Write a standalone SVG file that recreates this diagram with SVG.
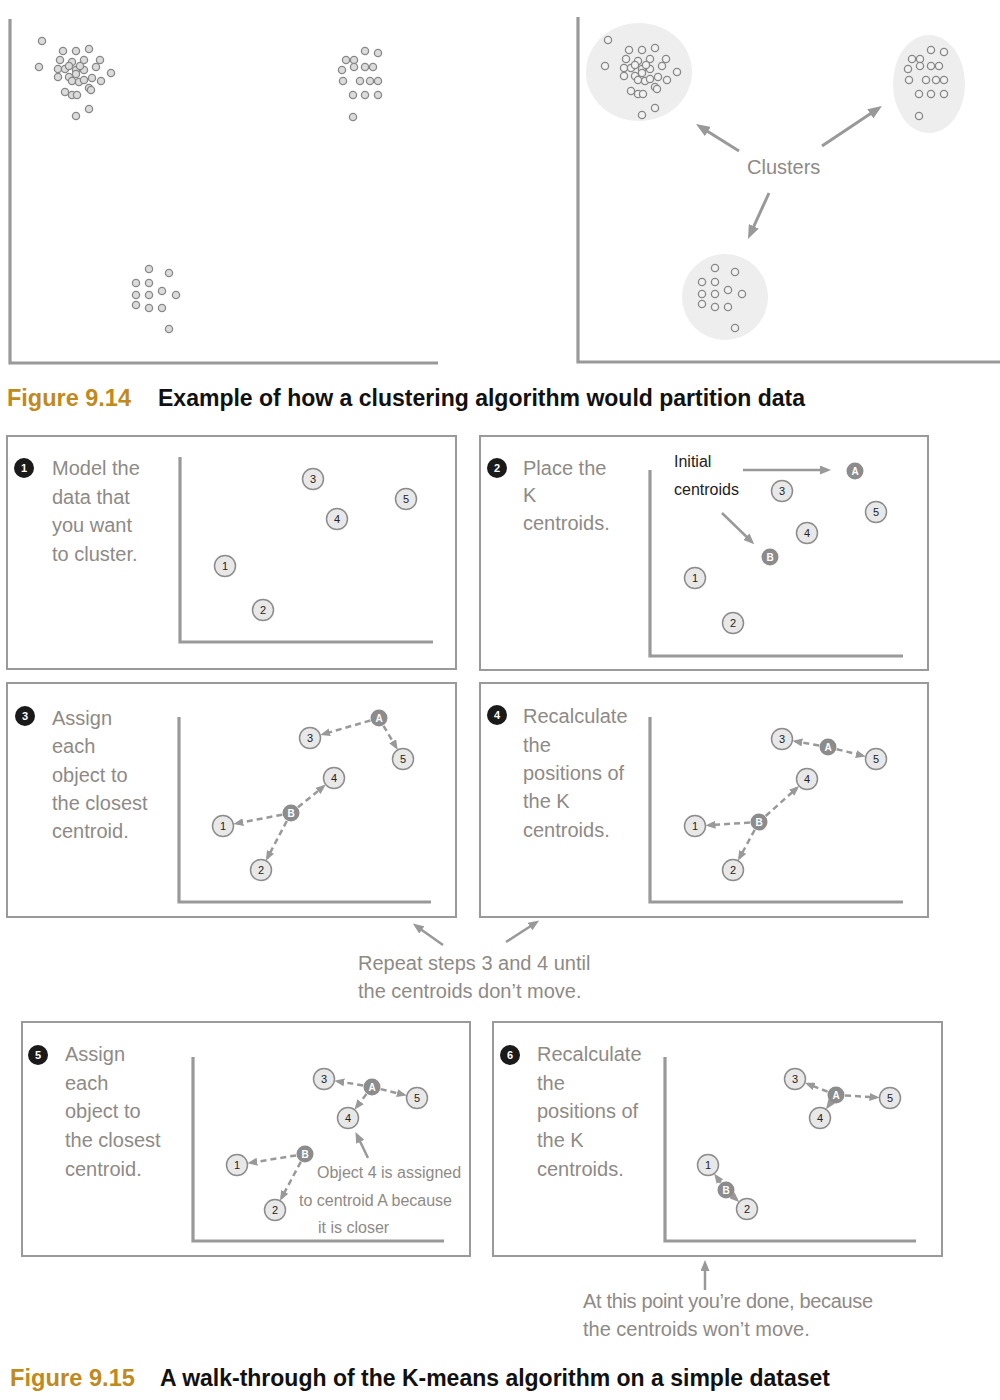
<svg xmlns="http://www.w3.org/2000/svg" xmlns:xlink="http://www.w3.org/1999/xlink" width="1000" height="1400" viewBox="0 0 1000 1400">
<defs>
<style>
.ax{stroke:#999;stroke-width:3.2;fill:none}
.panel{fill:none;stroke:#9a9a9a;stroke-width:2}
.pt{fill:#e8e8e8;stroke:#8c8c8c;stroke-width:1.5}
.ct{fill:#8c8c8c}
.pl{font-family:'Liberation Sans',sans-serif;font-size:11px;fill:#222;text-anchor:middle}
.cl{font-family:'Liberation Sans',sans-serif;font-weight:bold;font-size:10px;fill:#fff;text-anchor:middle}
.hw{font-family:'Liberation Sans',sans-serif;font-size:20px;fill:#8e8a86}
.hs{font-family:'Liberation Sans',sans-serif;font-size:16px;fill:#8e8a86}
.hb{font-family:'Liberation Sans',sans-serif;font-size:16px;fill:#222}
.badge{fill:#1a1a1a}
.bn{font-family:'Liberation Sans',sans-serif;font-weight:bold;font-size:11px;fill:#fff;text-anchor:middle}
.dash{stroke:#999;stroke-width:2.5;stroke-dasharray:6 4;fill:none;marker-end:url(#ms)}
.big{stroke:#999;stroke-width:3;fill:none;marker-end:url(#mb)}
.med{stroke:#999;stroke-width:2.5;fill:none;marker-end:url(#mm)}
.dots circle{stroke:#888;stroke-width:1.3}
.blob{fill:#eeeeee}
.cap{font-family:'Liberation Sans',sans-serif;font-weight:bold;font-size:23px}
</style>
<marker id="mb" markerUnits="userSpaceOnUse" markerWidth="14" markerHeight="11" refX="9" refY="5.5" orient="auto"><path d="M0,0 L14,5.5 L0,11 z" fill="#999"/></marker>
<marker id="mm" markerUnits="userSpaceOnUse" markerWidth="11" markerHeight="9" refX="7" refY="4.5" orient="auto"><path d="M0,0 L11,4.5 L0,9 z" fill="#999"/></marker>
<marker id="ms" markerUnits="userSpaceOnUse" markerWidth="10" markerHeight="8" refX="7" refY="4" orient="auto"><path d="M0,0 L10,4 L0,8 z" fill="#999"/></marker>
<g id="pts" class="dots">
<circle cx="42" cy="41" r="3.6"/><circle cx="63" cy="51" r="3.6"/><circle cx="76" cy="51" r="3.6"/><circle cx="89" cy="49" r="3.6"/>
<circle cx="60" cy="60" r="3.6"/><circle cx="72" cy="62" r="3.6"/><circle cx="84" cy="60" r="3.6"/><circle cx="100" cy="60" r="3.6"/>
<circle cx="39" cy="67" r="3.6"/><circle cx="58" cy="69" r="3.6"/><circle cx="65" cy="69" r="3.6"/><circle cx="76" cy="70" r="3.6"/>
<circle cx="84" cy="70" r="3.6"/><circle cx="96" cy="67" r="3.6"/><circle cx="111" cy="73" r="3.6"/><circle cx="58" cy="77" r="3.6"/>
<circle cx="69" cy="77" r="3.6"/><circle cx="76" cy="74" r="3.6"/><circle cx="72" cy="81" r="3.6"/><circle cx="79" cy="82" r="3.6"/>
<circle cx="84" cy="80" r="3.6"/><circle cx="92" cy="78" r="3.6"/><circle cx="101" cy="81" r="3.6"/><circle cx="65" cy="92" r="3.6"/>
<circle cx="72" cy="95" r="3.6"/><circle cx="77" cy="95" r="3.6"/><circle cx="89" cy="88" r="3.6"/><circle cx="91" cy="90" r="3.6"/>
<circle cx="89" cy="109" r="3.6"/><circle cx="76" cy="116" r="3.6"/><circle cx="69" cy="66" r="3.6"/><circle cx="80" cy="66" r="3.6"/>
<circle cx="365" cy="51" r="3.6"/><circle cx="378" cy="53" r="3.6"/><circle cx="346" cy="60" r="3.6"/><circle cx="354" cy="60" r="3.6"/>
<circle cx="342" cy="70" r="3.6"/><circle cx="354" cy="67" r="3.6"/><circle cx="365" cy="67" r="3.6"/><circle cx="373" cy="67" r="3.6"/>
<circle cx="343" cy="81" r="3.6"/><circle cx="360" cy="81" r="3.6"/><circle cx="370" cy="81" r="3.6"/><circle cx="378" cy="81" r="3.6"/>
<circle cx="353" cy="95" r="3.6"/><circle cx="365" cy="95" r="3.6"/><circle cx="378" cy="95" r="3.6"/><circle cx="353" cy="117" r="3.6"/>
<circle cx="149" cy="269" r="3.6"/><circle cx="169" cy="273" r="3.6"/><circle cx="136" cy="283" r="3.6"/><circle cx="149" cy="283" r="3.6"/>
<circle cx="162" cy="291" r="3.6"/><circle cx="136" cy="295" r="3.6"/><circle cx="149" cy="295" r="3.6"/><circle cx="176" cy="295" r="3.6"/>
<circle cx="136" cy="305" r="3.6"/><circle cx="149" cy="308" r="3.6"/><circle cx="162" cy="308" r="3.6"/><circle cx="169" cy="329" r="3.6"/>
</g>
</defs>
<rect width="1000" height="1400" fill="#fff"/>

<!-- Figure 9.14 -->
<g id="fig914-left">
<path class="ax" d="M10,19 V363 H438"/>
<use xlink:href="#pts" href="#pts" fill="#dcdcdc"/>
</g>
<g id="fig914-right">
<path class="ax" d="M578,17 V362 H1000"/>
<ellipse class="blob" cx="639" cy="72" rx="53" ry="49"/>
<ellipse class="blob" cx="929" cy="84" rx="36" ry="49"/>
<ellipse class="blob" cx="725" cy="297" rx="43" ry="43"/>
<use xlink:href="#pts" href="#pts" transform="translate(566,-1)" fill="#f2f2f2"/>
<text id="clusters" class="hw" x="747" y="174" font-size="21">Clusters</text>
</g>
<g id="cluster-arrows">
<line class="big" x1="739" y1="151" x2="700.2" y2="126.7"/>
<line class="big" x1="822" y1="146" x2="877.8" y2="108.8"/>
<line class="big" x1="769" y1="193" x2="750.1" y2="234.5"/>
</g>
<g id="caption914">
<text class="cap" x="7" y="406" fill="#c08a20" textLength="124" lengthAdjust="spacingAndGlyphs">Figure 9.14</text>
<text class="cap" x="158" y="406" fill="#111" textLength="647" lengthAdjust="spacingAndGlyphs">Example of how a clustering algorithm would partition data</text>
</g>

<!-- Panels -->
<g id="panel1">
<rect class="panel" x="7" y="436" width="449" height="233"/>
<circle class="badge" cx="24" cy="468" r="10"/><text class="bn" x="24" y="472">1</text>
<text class="hw"><tspan x="52" y="475">Model the</tspan><tspan x="52" y="503.5">data that</tspan><tspan x="52" y="532">you want</tspan><tspan x="52" y="560.5">to cluster.</tspan></text>
<path class="ax" d="M180,457 V642 H433"/>
</g>
<g id="panel2">
<rect class="panel" x="480" y="436" width="448" height="234"/>
<circle class="badge" cx="497" cy="468" r="10"/><text class="bn" x="497" y="472">2</text>
<text class="hw"><tspan x="523" y="475">Place the</tspan><tspan x="523" y="502">K</tspan><tspan x="523" y="530">centroids.</tspan></text>
<path class="ax" d="M650,470 V656 H903"/>
<text class="hb"><tspan x="674" y="467">Initial</tspan><tspan x="674" y="495">centroids</tspan></text>
</g>
<g id="panel3">
<rect class="panel" x="7" y="683" width="449" height="234"/>
<circle class="badge" cx="25" cy="716" r="10"/><text class="bn" x="25" y="720">3</text>
<text class="hw"><tspan x="52" y="725">Assign</tspan><tspan x="52" y="753">each</tspan><tspan x="52" y="782">object to</tspan><tspan x="52" y="810">the closest</tspan><tspan x="52" y="838">centroid.</tspan></text>
<path class="ax" d="M179,717 V902 H431"/>
</g>
<g id="panel4">
<rect class="panel" x="480" y="683" width="448" height="234"/>
<circle class="badge" cx="497" cy="715" r="10"/><text class="bn" x="497" y="719">4</text>
<text class="hw"><tspan x="523" y="723">Recalculate</tspan><tspan x="523" y="752">the</tspan><tspan x="523" y="780">positions of</tspan><tspan x="523" y="808">the K</tspan><tspan x="523" y="837">centroids.</tspan></text>
<path class="ax" d="M650,717 V902 H903"/>
</g>
<g id="panel5">
<rect class="panel" x="22" y="1022" width="448" height="234"/>
<circle class="badge" cx="38" cy="1055" r="10"/><text class="bn" x="38" y="1059">5</text>
<text class="hw"><tspan x="65" y="1061">Assign</tspan><tspan x="65" y="1090">each</tspan><tspan x="65" y="1118">object to</tspan><tspan x="65" y="1147">the closest</tspan><tspan x="65" y="1176">centroid.</tspan></text>
<path class="ax" d="M193,1057 V1241 H444"/>
<text class="hs"><tspan x="317" y="1178">Object 4 is assigned</tspan><tspan x="299" y="1206">to centroid A because</tspan><tspan x="318" y="1233">it is closer</tspan></text>
</g>
<g id="panel6">
<rect class="panel" x="493" y="1022" width="449" height="234"/>
<circle class="badge" cx="510" cy="1055" r="10"/><text class="bn" x="510" y="1059">6</text>
<text class="hw"><tspan x="537" y="1061">Recalculate</tspan><tspan x="537" y="1090">the</tspan><tspan x="537" y="1118">positions of</tspan><tspan x="537" y="1147">the K</tspan><tspan x="537" y="1176">centroids.</tspan></text>
<path class="ax" d="M665,1057 V1241 H916"/>
</g>

<g id="connectors">
<line class="med" x1="743" y1="470" x2="827" y2="470"/>
<line class="med" x1="722" y1="513" x2="751.4" y2="541.5"/>
<line class="dash" x1="370.4" y1="720.5" x2="323" y2="734.2"/>
<line class="dash" x1="383.5" y1="725.8" x2="396.2" y2="747.3"/>
<line class="dash" x1="298" y1="807.3" x2="323.5" y2="786.5"/>
<line class="dash" x1="282.2" y1="814.7" x2="236.3" y2="823.5"/>
<line class="dash" x1="286.8" y1="821" x2="267.3" y2="858.1"/>
<line class="dash" x1="819.1" y1="745.5" x2="795.3" y2="741.3"/>
<line class="dash" x1="836.7" y1="749.2" x2="862.9" y2="755.7"/>
<line class="dash" x1="765.7" y1="816" x2="796.9" y2="788"/>
<line class="dash" x1="750" y1="822.6" x2="708.5" y2="825.2"/>
<line class="dash" x1="754.7" y1="829.9" x2="739.4" y2="858.1"/>
<line class="med" x1="443" y1="945" x2="416.1" y2="925.9"/>
<line class="med" x1="506" y1="942" x2="535.8" y2="922.7"/>
<line class="dash" x1="363.1" y1="1085.5" x2="337.3" y2="1081.2"/>
<line class="dash" x1="380.7" y1="1089.1" x2="403.9" y2="1094.8"/>
<line class="dash" x1="366.5" y1="1094.1" x2="356.3" y2="1107.3"/>
<line class="dash" x1="296.1" y1="1155.4" x2="250.3" y2="1162.8"/>
<line class="dash" x1="300.8" y1="1161.9" x2="281.4" y2="1198.1"/>
<line class="med" x1="368" y1="1158" x2="357.2" y2="1135.5"/>
<line class="dash" x1="827.6" y1="1091.7" x2="807.6" y2="1083.9"/>
<line class="dash" x1="845" y1="1095.5" x2="876.5" y2="1097.3"/>
<line class="dash" x1="830.9" y1="1102.4" x2="827.7" y2="1106.9"/>
<line class="dash" x1="720.7" y1="1182.7" x2="715.9" y2="1176"/>
<line class="dash" x1="732.7" y1="1196" x2="737" y2="1199.9"/>
<line class="med" x1="705" y1="1290" x2="705" y2="1264"/>
</g>

<!-- Points -->
<g id="p1-3"><circle class="pt" cx="313" cy="479" r="10.5"/><text class="pl" x="313" y="483">3</text></g>
<g id="p1-5"><circle class="pt" cx="406" cy="499" r="10.5"/><text class="pl" x="406" y="503">5</text></g>
<g id="p1-4"><circle class="pt" cx="337" cy="519" r="10.5"/><text class="pl" x="337" y="523">4</text></g>
<g id="p1-1"><circle class="pt" cx="225" cy="566" r="10.5"/><text class="pl" x="225" y="570">1</text></g>
<g id="p1-2"><circle class="pt" cx="263" cy="610" r="10.5"/><text class="pl" x="263" y="614">2</text></g>

<g id="p2-3"><circle class="pt" cx="782" cy="491" r="10.5"/><text class="pl" x="782" y="495">3</text></g>
<g id="p2-5"><circle class="pt" cx="876" cy="512" r="10.5"/><text class="pl" x="876" y="516">5</text></g>
<g id="p2-4"><circle class="pt" cx="807" cy="533" r="10.5"/><text class="pl" x="807" y="537">4</text></g>
<g id="p2-1"><circle class="pt" cx="695" cy="578" r="10.5"/><text class="pl" x="695" y="582">1</text></g>
<g id="p2-2"><circle class="pt" cx="733" cy="623" r="10.5"/><text class="pl" x="733" y="627">2</text></g>
<g id="p2-A"><circle class="ct" cx="855" cy="471" r="8.5"/><text class="cl" x="855" y="475">A</text></g>
<g id="p2-B"><circle class="ct" cx="770" cy="557" r="8.5"/><text class="cl" x="770" y="561">B</text></g>

<g id="p3-3"><circle class="pt" cx="310" cy="738" r="10.5"/><text class="pl" x="310" y="742">3</text></g>
<g id="p3-5"><circle class="pt" cx="403" cy="759" r="10.5"/><text class="pl" x="403" y="763">5</text></g>
<g id="p3-4"><circle class="pt" cx="334" cy="778" r="10.5"/><text class="pl" x="334" y="782">4</text></g>
<g id="p3-1"><circle class="pt" cx="223" cy="826" r="10.5"/><text class="pl" x="223" y="830">1</text></g>
<g id="p3-2"><circle class="pt" cx="261" cy="870" r="10.5"/><text class="pl" x="261" y="874">2</text></g>
<g id="p3-A"><circle class="ct" cx="379" cy="718" r="8.5"/><text class="cl" x="379" y="722">A</text></g>
<g id="p3-B"><circle class="ct" cx="291" cy="813" r="8.5"/><text class="cl" x="291" y="817">B</text></g>

<g id="p4-3"><circle class="pt" cx="782" cy="739" r="10.5"/><text class="pl" x="782" y="743">3</text></g>
<g id="p4-5"><circle class="pt" cx="876" cy="759" r="10.5"/><text class="pl" x="876" y="763">5</text></g>
<g id="p4-4"><circle class="pt" cx="807" cy="779" r="10.5"/><text class="pl" x="807" y="783">4</text></g>
<g id="p4-1"><circle class="pt" cx="695" cy="826" r="10.5"/><text class="pl" x="695" y="830">1</text></g>
<g id="p4-2"><circle class="pt" cx="733" cy="870" r="10.5"/><text class="pl" x="733" y="874">2</text></g>
<g id="p4-A"><circle class="ct" cx="828" cy="747" r="8.5"/><text class="cl" x="828" y="751">A</text></g>
<g id="p4-B"><circle class="ct" cx="759" cy="822" r="8.5"/><text class="cl" x="759" y="826">B</text></g>

<g id="p5-3"><circle class="pt" cx="324" cy="1079" r="10.5"/><text class="pl" x="324" y="1083">3</text></g>
<g id="p5-5"><circle class="pt" cx="417" cy="1098" r="10.5"/><text class="pl" x="417" y="1102">5</text></g>
<g id="p5-4"><circle class="pt" cx="348" cy="1118" r="10.5"/><text class="pl" x="348" y="1122">4</text></g>
<g id="p5-1"><circle class="pt" cx="237" cy="1165" r="10.5"/><text class="pl" x="237" y="1169">1</text></g>
<g id="p5-2"><circle class="pt" cx="275" cy="1210" r="10.5"/><text class="pl" x="275" y="1214">2</text></g>
<g id="p5-A"><circle class="ct" cx="372" cy="1087" r="8.5"/><text class="cl" x="372" y="1091">A</text></g>
<g id="p5-B"><circle class="ct" cx="305" cy="1154" r="8.5"/><text class="cl" x="305" y="1158">B</text></g>

<g id="p6-3"><circle class="pt" cx="795" cy="1079" r="10.5"/><text class="pl" x="795" y="1083">3</text></g>
<g id="p6-5"><circle class="pt" cx="890" cy="1098" r="10.5"/><text class="pl" x="890" y="1102">5</text></g>
<g id="p6-4"><circle class="pt" cx="820" cy="1118" r="10.5"/><text class="pl" x="820" y="1122">4</text></g>
<g id="p6-1"><circle class="pt" cx="708" cy="1165" r="10.5"/><text class="pl" x="708" y="1169">1</text></g>
<g id="p6-2"><circle class="pt" cx="747" cy="1209" r="10.5"/><text class="pl" x="747" y="1213">2</text></g>
<g id="p6-A"><circle class="ct" cx="836" cy="1095" r="8.5"/><text class="cl" x="836" y="1099">A</text></g>
<g id="p6-B"><circle class="ct" cx="726" cy="1190" r="8.5"/><text class="cl" x="726" y="1194">B</text></g>

<g id="note-repeat"><text class="hw"><tspan x="358" y="970">Repeat steps 3 and 4 until</tspan><tspan x="358" y="998">the centroids don’t move.</tspan></text></g>
<g id="note-done"><text class="hw"><tspan x="583" y="1308" textLength="290">At this point you’re done, because</tspan><tspan x="583" y="1336">the centroids won’t move.</tspan></text></g>

<g id="caption915">
<text class="cap" x="10" y="1386" fill="#c08a20" textLength="125" lengthAdjust="spacingAndGlyphs">Figure 9.15</text>
<text class="cap" x="160" y="1386" fill="#111" textLength="670" lengthAdjust="spacingAndGlyphs">A walk-through of the K-means algorithm on a simple dataset</text>
</g>
</svg>
